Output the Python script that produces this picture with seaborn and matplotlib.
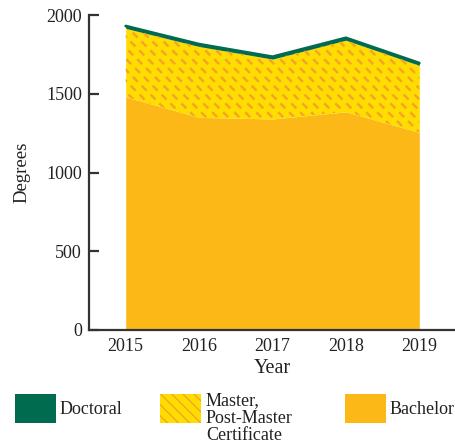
import numpy as np
import matplotlib
matplotlib.use("Agg")
import matplotlib.pyplot as plt
import matplotlib.patches as mpatches
import matplotlib.transforms as mtransforms
import seaborn as sns
import pandas as pd

years = [2015, 2016, 2017, 2018, 2019]
bachelor = [1480, 1350, 1340, 1385, 1255]
master = [435, 450, 380, 455, 425]
doctoral = [15, 15, 15, 15, 15]

df = pd.DataFrame({"Year": years, "Bachelor": bachelor, "Master": master, "Doctoral": doctoral})
df["b_top"] = df["Bachelor"]
df["m_top"] = df["b_top"] + df["Master"]
df["d_top"] = df["m_top"] + df["Doctoral"]

GREEN = "#006B4F"
YELLOW = "#FFDD00"
DASH = "#F5A524"
GOLD = "#FBB817"
INK = "#333333"
TXT = "#222222"

sns.set_theme(style="ticks")
plt.rcParams["font.family"] = ["Liberation Serif", "DejaVu Serif"]

W, H = 456, 445
fig = plt.figure(figsize=(W / 100, H / 100), dpi=100)
ax = fig.add_axes([89 / W, 115 / H, 367 / W, 315 / H])

ax.fill_between(df["Year"], 0, df["b_top"], color=GOLD, lw=0)
mpoly = ax.fill_between(df["Year"], df["b_top"], df["m_top"], color=YELLOW, lw=0)
ax.fill_between(df["Year"], df["m_top"], df["d_top"], color=GREEN, lw=0)
sns.lineplot(x="Year", y="d_top", data=df, color=GREEN, lw=2, ax=ax)

# dashed diagonal hatch for the master band, drawn in pixels and clipped to the band
fig.canvas.draw()
bb = ax.bbox
step = 11
for c in np.arange(-bb.height, bb.width + step, step):
    x0 = bb.x0 + c
    y0 = bb.y1
    ln = plt.Line2D([x0, x0 + bb.height + 20], [y0, y0 - bb.height - 20],
                    transform=mtransforms.IdentityTransform(), color=DASH, lw=1.8,
                    linestyle=(0, (2.8, 2.2)), solid_capstyle="butt", dash_capstyle="butt")
    ax.add_artist(ln)
    ln.set_clip_path(mpoly.get_paths()[0], mpoly.get_transform())

ax.set_xlim(2014.5, 2019.5)
ax.set_ylim(0, 2000)
ax.set_xticks(years)
ax.set_yticks([0, 500, 1000, 1500, 2000])
for s in ["top", "right"]:
    ax.spines[s].set_visible(False)
for s in ["left", "bottom"]:
    ax.spines[s].set_color(INK)
    ax.spines[s].set_linewidth(1.6)
ax.tick_params(axis="y", direction="in", length=7, width=1.6, color=INK, pad=5,
               labelsize=13, labelcolor=TXT)
ax.tick_params(axis="x", length=0, pad=5.5, labelsize=13, labelcolor=TXT)
ax.set_xlabel("Year", fontsize=14.5, color=TXT, labelpad=3)
ax.set_ylabel("Degrees", fontsize=13.5, color=TXT, labelpad=11)

# legend swatches and labels along the bottom (pixel positions, top-left origin)
pix = mtransforms.Affine2D().scale(1 / W, -1 / H).translate(0, 1) + fig.transFigure
swatches = [
    (15, GREEN, None, "Doctoral"),
    (160, YELLOW, "\\\\\\", "Master,\nPost-Master\nCertificate"),
    (345, GOLD, None, "Bachelor"),
]
for x, col, hatch, lab in swatches:
    r = mpatches.Rectangle((x, 394), 41, 29, transform=pix, facecolor=col,
                           edgecolor=DASH if hatch else col, lw=0, hatch=hatch)
    fig.add_artist(r)
    if hatch:
        fig.text(x + 46, 392, lab, transform=pix, fontsize=13, color=TXT,
                 va="top", ha="left", linespacing=1.05)
    else:
        fig.text(x + 45, 409, lab, transform=pix, fontsize=13, color=TXT,
                 va="center", ha="left")

fig.savefig("out.png", dpi=100)
